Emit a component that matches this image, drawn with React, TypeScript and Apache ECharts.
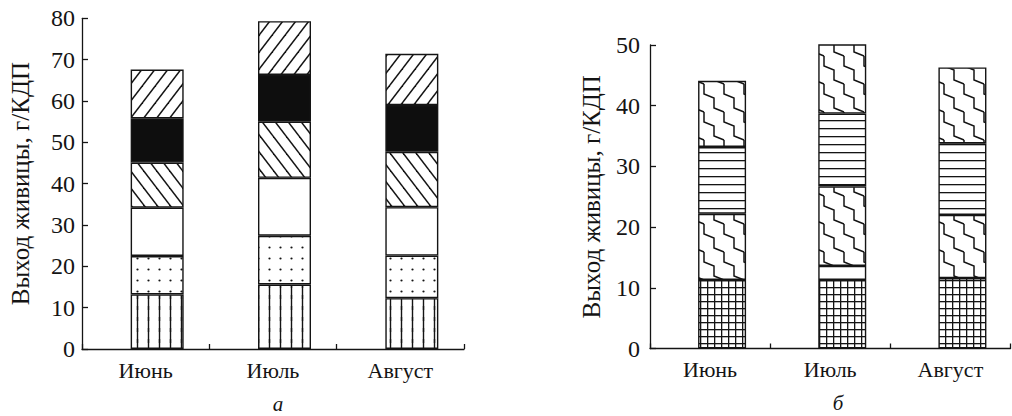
import React, { useEffect, useRef } from "react";
import * as echarts from "echarts";

// ---------- data ----------
const months = ["Июнь", "Июль", "Август"];

// chart "а" (stacked segments, bottom to top)
const aVertical = [13.2, 15.6, 12.3];
const aDots = [9.3, 11.8, 10.3];
const aWhite = [11.7, 14.0, 11.7];
const aBackslash = [10.9, 13.6, 13.4];
const aBlack = [10.7, 11.3, 11.3];
const aSlash = [11.8, 13.0, 12.4];

// chart "б" (stacked segments, bottom to top)
const bGrid = [11.3, 11.3, 11.6];
const bWhite = [0, 2.3, 0];
const bZigzagLow = [10.9, 13.1, 10.4];
const bHorizontal = [11.0, 12.0, 11.8];
const bZigzagHigh = [10.9, 12.1, 12.5];

const aTicks = { min: 0, max: 80, interval: 10 };
const bTicks = { min: 0, max: 50, interval: 10 };
const yName = "Выход живицы, г/КДП";
const panelLabels = ["а", "б"];

const serif = "'Liberation Serif', 'Times New Roman', serif";
const ink = "#141414";

function tile(w: number, h: number, draw: (ctx: CanvasRenderingContext2D) => void) {
  const c = document.createElement("canvas");
  c.width = w;
  c.height = h;
  const ctx = c.getContext("2d") as CanvasRenderingContext2D;
  ctx.fillStyle = "#ffffff";
  ctx.fillRect(0, 0, w, h);
  ctx.strokeStyle = ink;
  ctx.fillStyle = ink;
  draw(ctx);
  return { image: c, repeat: "repeat", imageWidth: w, imageHeight: h } as any;
}

function wrapped(ctx: CanvasRenderingContext2D, w: number, h: number, pts: number[][], lw: number) {
  ctx.lineWidth = lw;
  ctx.lineJoin = "miter";
  for (let dx = -1; dx <= 1; dx++) {
    for (let dy = -1; dy <= 1; dy++) {
      ctx.beginPath();
      pts.forEach((p, i) => {
        const x = p[0] + dx * w;
        const y = p[1] + dy * h;
        if (i === 0) ctx.moveTo(x, y);
        else ctx.lineTo(x, y);
      });
      ctx.stroke();
    }
  }
}

function makePatterns() {
  return {
    vertical: tile(11, 11, (ctx) => wrapped(ctx, 11, 11, [[5.5, -2], [5.5, 13]], 1.4)),
    dots: tile(11, 11, (ctx) => {
      ctx.beginPath();
      ctx.arc(5.5, 5.5, 1.1, 0, Math.PI * 2);
      ctx.fill();
    }),
    backslash: tile(13, 17, (ctx) => wrapped(ctx, 13, 17, [[0, 0], [13, 17]], 1.5)),
    slash: tile(13, 17, (ctx) => wrapped(ctx, 13, 17, [[0, 17], [13, 0]], 1.5)),
    grid: tile(7, 7, (ctx) => {
      ctx.fillRect(0, 0, 7, 1.3);
      ctx.fillRect(0, 0, 1.3, 7);
    }),
    horizontal: tile(8, 8, (ctx) => {
      ctx.fillRect(0, 0, 8, 1.3);
    }),
    zigzag: tile(20, 28, (ctx) =>
      wrapped(ctx, 20, 28, [[4, 0], [4, 10], [14, 14], [14, 24], [24, 28]], 1.5)
    ),
  };
}

export default function App() {
  const ref = useRef<HTMLDivElement>(null);

  useEffect(() => {
    document.body.style.margin = "0";
    if (!ref.current) return;
    const chart = echarts.init(ref.current, undefined, { renderer: "svg" });
    const p = makePatterns();

    const axisLine = { show: true, lineStyle: { color: ink, width: 1.3 } };
    const axisTick = { show: true, inside: true, length: 5, lineStyle: { color: ink, width: 1.3 } };
    const labelStyle = { color: ink, fontSize: 22, fontFamily: serif };
    const nameStyle = { color: ink, fontSize: 25, fontFamily: serif };
    const nz = (arr: number[]) => arr.map((v) => (v === 0 ? "-" : v));

    const seg = (
      name: string,
      data: number[],
      color: any,
      idx: number,
      stack: string,
      barWidth: number,
      barGap: string
    ) => ({
      type: "bar",
      name,
      xAxisIndex: idx,
      yAxisIndex: idx,
      stack,
      data: nz(data),
      barWidth,
      barGap,
      itemStyle: { color, borderColor: ink, borderWidth: 1.4 },
      emphasis: { disabled: true },
    });

    const aGap = "-56.6%";
    const bGap = "-50%";

    chart.setOption({
      animation: false,
      backgroundColor: "#ffffff",
      grid: [
        { left: 82, top: 18.3, width: 382, height: 330.7 },
        { left: 650, top: 45, width: 360.5, height: 303.5 },
      ],
      xAxis: [0, 1].map((i) => ({
        gridIndex: i,
        type: "category",
        data: months,
        axisLine,
        axisTick,
        axisLabel: { ...labelStyle, margin: 10 },
        splitLine: { show: false },
      })),
      yAxis: [aTicks, bTicks].map((t, i) => ({
        gridIndex: i,
        type: "value",
        min: t.min,
        max: t.max,
        interval: t.interval,
        axisLine,
        axisTick: { ...axisTick, length: 6 },
        axisLabel: { ...labelStyle, fontSize: 24, margin: i === 0 ? 7 : 10 },
        splitLine: { show: false },
        name: yName,
        nameLocation: "middle",
        nameGap: i === 0 ? 49 : 46,
        nameTextStyle: nameStyle,
      })),
      series: [
        { type: "bar", xAxisIndex: 0, yAxisIndex: 0, stack: "dA", data: [null, null, null], barWidth: 53, barGap: aGap },
        seg("a1", aVertical, p.vertical, 0, "A", 53, aGap),
        seg("a2", aDots, p.dots, 0, "A", 53, aGap),
        seg("a3", aWhite, "#ffffff", 0, "A", 53, aGap),
        seg("a4", aBackslash, p.backslash, 0, "A", 53, aGap),
        seg("a5", aBlack, "#0e0e0e", 0, "A", 53, aGap),
        seg("a6", aSlash, p.slash, 0, "A", 53, aGap),
        { type: "bar", xAxisIndex: 1, yAxisIndex: 1, stack: "dB", data: [null, null, null], barWidth: 48, barGap: bGap },
        seg("b1", bGrid, p.grid, 1, "B", 48, bGap),
        seg("b2", bWhite, "#ffffff", 1, "B", 48, bGap),
        seg("b3", bZigzagLow, p.zigzag, 1, "B", 48, bGap),
        seg("b4", bHorizontal, p.horizontal, 1, "B", 48, bGap),
        seg("b5", bZigzagHigh, p.zigzag, 1, "B", 48, bGap),
      ],
      graphic: [
        {
          type: "text",
          x: 278,
          y: 404,
          style: { text: panelLabels[0], font: `italic 21px ${serif}`, fill: ink, align: "center", verticalAlign: "middle" },
        },
        {
          type: "text",
          x: 838,
          y: 403,
          style: { text: panelLabels[1], font: `italic 21px ${serif}`, fill: ink, align: "center", verticalAlign: "middle" },
        },
      ],
    });

    return () => chart.dispose();
  }, []);

  return <div ref={ref} style={{ position: "absolute", left: 0, top: 0, width: 1012, height: 416 }} />;
}
